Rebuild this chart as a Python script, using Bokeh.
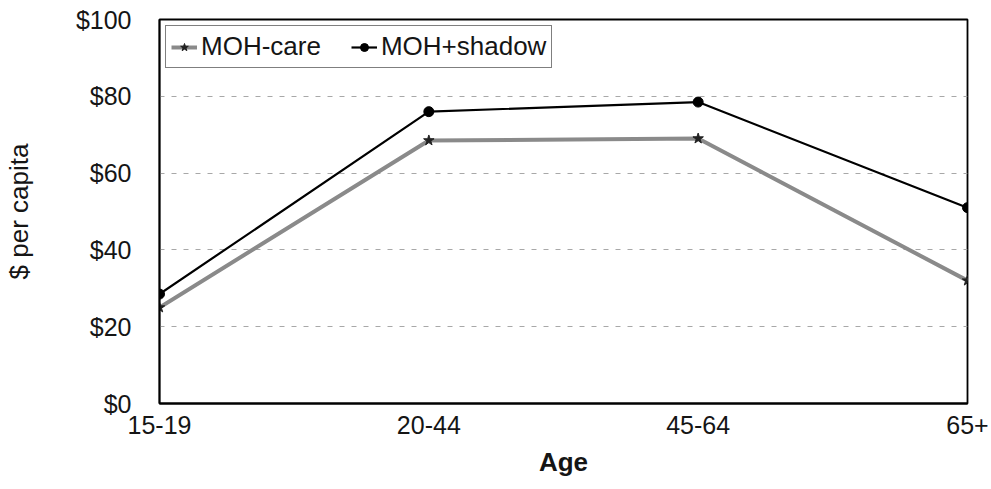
from bokeh.plotting import figure
from bokeh.models import FixedTicker, Legend, LegendItem, NumeralTickFormatter
from bokeh.embed import file_html
from bokeh.resources import INLINE

# Per-capita spending by age group
ages = ["15-19", "20-44", "45-64", "65+"]
moh_care = [25, 68.5, 69, 32]
moh_shadow = [28.5, 76, 78.5, 51]
y_ticks = [0, 20, 40, 60, 80, 100]

xs = list(range(len(ages)))
FONT = "Liberation Sans"

p = figure(width=991, height=489, output_backend="svg", toolbar_location=None,
           x_range=(0, len(ages) - 1), y_range=(0, 100),
           min_border_left=157, min_border_right=24, min_border_top=19, min_border_bottom=86)
p.background_fill_color = "white"
p.border_fill_color = "white"
p.outline_line_color = "black"
p.outline_line_width = 1.8

p.xgrid.grid_line_color = None
p.ygrid.grid_line_color = "#a8a8a8"
p.ygrid.grid_line_dash = "5 7"
p.ygrid.grid_line_width = 1

p.xaxis.ticker = FixedTicker(ticks=xs)
p.xaxis.major_label_overrides = {i: a for i, a in enumerate(ages)}
p.yaxis.ticker = FixedTicker(ticks=y_ticks)
p.yaxis.formatter = NumeralTickFormatter(format="$0")

for ax in (p.xaxis[0], p.yaxis[0]):
    ax.axis_line_color = "black"
    ax.axis_line_width = 1.8
    ax.major_tick_line_color = None
    ax.minor_tick_line_color = None
    ax.major_label_text_font = FONT
    ax.major_label_text_font_size = "25px"
    ax.major_label_text_color = "#151515"
    ax.axis_label_text_font = FONT
    ax.axis_label_text_font_size = "26px"
    ax.axis_label_text_color = "#151515"
    ax.axis_label_text_font_style = "normal"

p.xaxis.axis_label = "Age"
p.xaxis.axis_label_text_font_style = "bold"
p.xaxis.major_label_standoff = 6
p.xaxis.axis_label_standoff = 10
p.yaxis.axis_label = "$ per capita"
p.yaxis.major_label_standoff = 22
p.yaxis.axis_label_standoff = 39

r_care = p.line(xs, moh_care, line_color="#8a8a8a", line_width=4)
m_care = p.scatter(xs, moh_care, marker="star", size=11, fill_color="#222222", line_color="#222222")
r_shadow = p.line(xs, moh_shadow, line_color="black", line_width=2.2)
m_shadow = p.scatter(xs, moh_shadow, marker="circle", size=10, fill_color="black", line_color="black")

legend = Legend(items=[LegendItem(label="MOH-care", renderers=[r_care, m_care]),
                       LegendItem(label="MOH+shadow", renderers=[r_shadow, m_shadow])],
                orientation="horizontal", location="top_left")
legend.label_text_font = FONT
legend.label_text_font_size = "26px"
legend.label_text_color = "#151515"
legend.border_line_color = "black"
legend.border_line_width = 1.5
legend.margin = 6
legend.padding = 5
legend.spacing = 30
legend.glyph_width = 26
legend.glyph_height = 20
legend.label_height = 26
legend.label_standoff = 4
p.add_layout(legend)

open("out.html", "w").write(file_html(p, INLINE))
